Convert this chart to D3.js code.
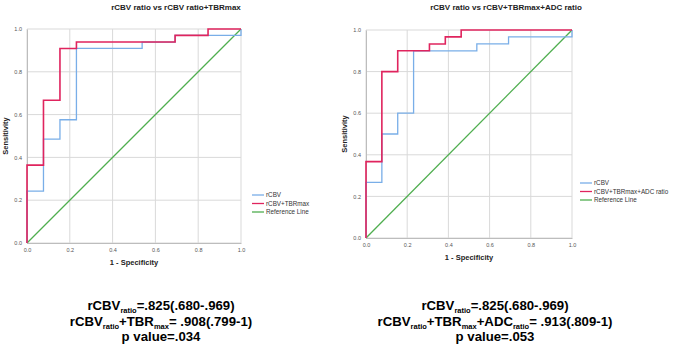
<!DOCTYPE html>
<html>
<head>
<meta charset="utf-8">
<script src="https://cdn.jsdelivr.net/npm/d3@7"></script>
<style>
  body { margin: 0; background: #fff; }
  svg { display: block; font-family: "Liberation Sans", Arial, sans-serif; }
</style>
</head>
<body>
<svg width="681" height="344"></svg>
<script>
const tickValues = [0, 0.2, 0.4, 0.6, 0.8, 1.0];

// ROC points (1 - specificity, sensitivity)
const leftRcbvFpr = [0, 0, 0.077, 0.154, 0.231, 0.538, 0.692, 1.0];
const leftRcbvTpr = [0, 0.242, 0.485, 0.576, 0.909, 0.939, 0.970, 1.0];
const leftComboFpr = [0, 0, 0.077, 0.154, 0.231, 0.692, 0.846, 1.0];
const leftComboTpr = [0, 0.364, 0.667, 0.909, 0.939, 0.970, 1.0, 1.0];

const rightRcbvFpr = [0, 0, 0.077, 0.154, 0.231, 0.538, 0.692, 1.0];
const rightRcbvTpr = [0, 0.267, 0.5, 0.6, 0.9, 0.933, 0.967, 1.0];
const rightComboFpr = [0, 0, 0.077, 0.154, 0.308, 0.385, 0.462, 1.0];
const rightComboTpr = [0, 0.367, 0.8, 0.9, 0.933, 0.967, 1.0, 1.0];

const refFpr = [0, 1];
const refTpr = [0, 1];

const colors = { rcbv: "#79aee8", combo: "#e0245e", ref: "#4fae4f" };

const svg = d3.select("svg");

function zip(xs, ys) { return xs.map((x, i) => [x, ys[i]]); }

function drawRoc(opt) {
  const x = d3.scaleLinear().domain([0, 1]).range([opt.x0, opt.x1]);
  const y = d3.scaleLinear().domain([0, 1]).range([opt.y0, opt.y1]);
  const g = svg.append("g");

  // grid
  g.selectAll(".gx").data(tickValues).enter().append("line")
    .attr("x1", d => x(d)).attr("x2", d => x(d))
    .attr("y1", y(0)).attr("y2", y(1))
    .attr("stroke", "#d9d9d9").attr("stroke-width", 1);
  g.selectAll(".gy").data(tickValues).enter().append("line")
    .attr("y1", d => y(d)).attr("y2", d => y(d))
    .attr("x1", x(0)).attr("x2", x(1))
    .attr("stroke", "#d9d9d9").attr("stroke-width", 1);

  // axes
  const ax = g.append("g").attr("transform", `translate(0,${y(0)})`)
    .call(d3.axisBottom(x).tickValues(tickValues).tickFormat(d3.format(".1f")).tickSize(0).tickPadding(5));
  const ay = g.append("g").attr("transform", `translate(${x(0)},0)`)
    .call(d3.axisLeft(y).tickValues(tickValues).tickFormat(d3.format(".1f")).tickSize(0).tickPadding(5));
  [ax, ay].forEach(a => {
    a.select(".domain").attr("stroke", "#bdbdbd");
    a.selectAll("text").attr("font-size", 5.5).attr("fill", "#555");
  });

  const line = d3.line().x(d => x(d[0])).y(d => y(d[1]));
  const step = d3.line().x(d => x(d[0])).y(d => y(d[1])).curve(d3.curveStepAfter);

  g.append("path").datum(zip(refFpr, refTpr)).attr("d", line)
    .attr("fill", "none").attr("stroke", colors.ref).attr("stroke-width", 1.3);
  g.append("path").datum(zip(opt.rcbv[0], opt.rcbv[1])).attr("d", step)
    .attr("fill", "none").attr("stroke", colors.rcbv).attr("stroke-width", 1.3);
  g.append("path").datum(zip(opt.combo[0], opt.combo[1])).attr("d", step)
    .attr("fill", "none").attr("stroke", colors.combo).attr("stroke-width", 1.6);

  // titles
  g.append("text").attr("x", opt.titleX).attr("y", 10).attr("text-anchor", "middle")
    .attr("font-size", 8).attr("font-weight", "bold").attr("fill", "#222").text(opt.title);
  g.append("text").attr("x", (x(0) + x(1)) / 2).attr("y", y(0) + 22).attr("text-anchor", "middle")
    .attr("font-size", 7.5).attr("font-weight", "bold").attr("fill", "#222").text("1 - Specificity");
  g.append("text").attr("transform", `translate(${x(0) - 19},${(y(0) + y(1)) / 2}) rotate(-90)`)
    .attr("text-anchor", "middle").attr("font-size", 7.5).attr("font-weight", "bold").attr("fill", "#222")
    .text("Sensitivity");

  // legend
  const items = [[colors.rcbv, "rCBV"], [colors.combo, opt.comboName], [colors.ref, "Reference Line"]];
  const lg = g.append("g").attr("transform", `translate(${opt.legX},${opt.legY})`);
  items.forEach((it, i) => {
    lg.append("line").attr("x1", 0).attr("x2", 12).attr("y1", i * 8.5).attr("y2", i * 8.5)
      .attr("stroke", it[0]).attr("stroke-width", 1.3);
    lg.append("text").attr("x", 14).attr("y", i * 8.5 + 2.2).attr("font-size", 6.3)
      .attr("fill", "#333").text(it[1]);
  });
}

drawRoc({
  x0: 27, x1: 241, y0: 243, y1: 29,
  rcbv: [leftRcbvFpr, leftRcbvTpr], combo: [leftComboFpr, leftComboTpr],
  title: "rCBV ratio vs rCBV ratio+TBRmax", titleX: 176,
  comboName: "rCBV+TBRmax", legX: 252, legY: 195
});
drawRoc({
  x0: 366, x1: 572, y0: 238, y1: 30,
  rcbv: [rightRcbvFpr, rightRcbvTpr], combo: [rightComboFpr, rightComboTpr],
  title: "rCBV ratio vs rCBV+TBRmax+ADC ratio", titleX: 506,
  comboName: "rCBV+TBRmax+ADC ratio", legX: 580, legY: 183
});

// statistics text below each chart
function statLines(cx, rows) {
  rows.forEach((parts, i) => {
    const t = svg.append("text").attr("x", cx).attr("y", 310 + i * 15.5)
      .attr("text-anchor", "middle").attr("font-size", 13.2).attr("font-weight", "bold").attr("fill", "#000");
    let shift = 0;
    parts.forEach(p => {
      if (p.sub) {
        t.append("tspan").attr("font-size", 7.5).attr("dy", 3 - shift).text(p.sub);
        shift = 3;
      } else {
        t.append("tspan").attr("dy", -shift).text(p.t);
        shift = 0;
      }
    });
  });
}

statLines(161, [
  [{ t: "rCBV" }, { sub: "ratio" }, { t: "=.825(.680-.969)" }],
  [{ t: "rCBV" }, { sub: "ratio" }, { t: "+TBR" }, { sub: "max" }, { t: "= .908(.799-1)" }],
  [{ t: "p value=.034" }]
]);
statLines(495, [
  [{ t: "rCBV" }, { sub: "ratio" }, { t: "=.825(.680-.969)" }],
  [{ t: "rCBV" }, { sub: "ratio" }, { t: "+TBR" }, { sub: "max" }, { t: "+ADC" }, { sub: "ratio" }, { t: "= .913(.809-1)" }],
  [{ t: "p value=.053" }]
]);
</script>
</body>
</html>
